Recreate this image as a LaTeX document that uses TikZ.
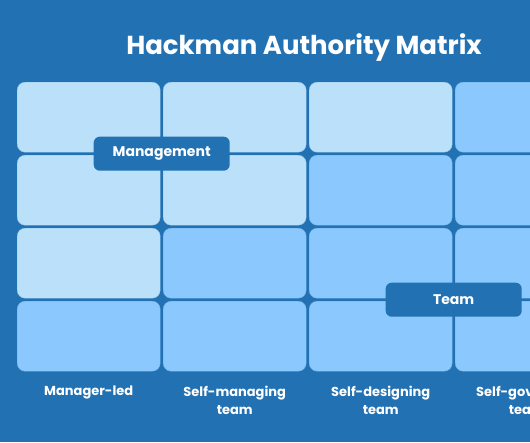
\documentclass[tikz,border=0pt]{standalone}
\usepackage{fontspec}
\setmainfont{Poppins}
\definecolor{hkbg}{HTML}{2271B3}
\definecolor{hklight}{HTML}{BBE1FA}
\definecolor{hkmid}{HTML}{8BC8FD}
\usetikzlibrary{positioning,calc}

\begin{document}
\begin{tikzpicture}[
  x=1pt,y=-1pt,
  cellbox/.style={draw=hkbg!25!#1,fill=#1,rounded corners=8pt,minimum width=143pt,
                  minimum height=70pt,inner sep=0pt,anchor=north west},
  tagbox/.style={fill=hkbg,text=white,rounded corners=6pt,minimum width=136pt,
                 minimum height=34pt,inner sep=0pt,font=\fontsize{14}{17}\selectfont\bfseries},
  collabel/.style={text=white,align=center,inner sep=0pt,
                   font=\fontsize{13}{18}\selectfont\bfseries},
]
  % Background
  \fill[hkbg] (0,0) rectangle (530,442);
  \useasboundingbox (0,0) rectangle (530,442);
  \clip (0,0) rectangle (530,442);

  % Title
  \node[text=white,font=\fontsize{26}{30}\selectfont\bfseries,anchor=base] (title) at (304,54)
    {Hackman Authority Matrix};

  % Grid of cells
  \foreach \r in {1,...,4} {
    \foreach \c in {1,...,4} {
      \ifnum\numexpr\r+\c\relax<5 \def\shade{hklight}\else\def\shade{hkmid}\fi
      \node[cellbox=\shade] (cell-\r-\c) at ({17+146*(\c-1)},{82+73*(\r-1)}) {};
    }
  }

  % Column labels
  \foreach \c/\txt in {1/Manager-led,2/{Self-managing\\team},3/{Self-designing\\team},
                       4/{Self-governing\\team}} {
    \node[collabel,below=14pt of cell-4-\c] (label-\c) {\txt};
  }

  % Authority tags
  \node[tagbox] (management) at ($(cell-1-1.south east)!0.5!(cell-2-2.north west)$) {Management};
  \node[tagbox] (team) at ($(cell-3-3.south east)!0.5!(cell-4-4.north west)$) {Team};
\end{tikzpicture}
\end{document}
